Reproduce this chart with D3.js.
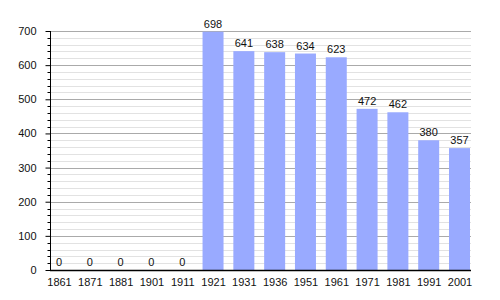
<!DOCTYPE html>
<html>
<head>
<meta charset="utf-8">
<script src="https://cdn.jsdelivr.net/npm/d3@7"></script>
<style>
  body { margin: 0; background: #fff; }
  svg text { font-family: "Liberation Sans", Arial, sans-serif; font-size: 11px; fill: #111; }
</style>
</head>
<body>
<svg id="chart" width="500" height="300"></svg>
<script>
var years = ['1861', '1871', '1881', '1901', '1911', '1921', '1931', '1936', '1951', '1961', '1971', '1981', '1991', '2001'];
var population = [0, 0, 0, 0, 0, 698, 641, 638, 634, 623, 472, 462, 380, 357];
var yTicks = [0, 100, 200, 300, 400, 500, 600, 700];

var svg = d3.select('#chart');

var plotLeft = 50, plotRight = 471, plotTop = 31, plotBottom = 270;

var x = d3.scalePoint().domain(years).range([59, 459.5]);
var y = d3.scaleLinear().domain([0, 700]).range([plotBottom, plotTop]);
var barW = 21;

// minor grid every 20
var minor = d3.range(20, 700, 20).filter(function(v) { return v % 100 != 0; });
svg.append('g').selectAll('line').data(minor)
  .enter().append('line')
  .attr('x1', plotLeft).attr('x2', plotRight)
  .attr('y1', function(d) { return Math.round(y(d)) + 0.5; })
  .attr('y2', function(d) { return Math.round(y(d)) + 0.5; })
  .style('stroke', '#e2e2e2');

svg.append('g').selectAll('line').data(yTicks.slice(1))
  .enter().append('line')
  .attr('x1', plotLeft).attr('x2', plotRight)
  .attr('y1', function(d) { return Math.round(y(d)) + 0.5; })
  .attr('y2', function(d) { return Math.round(y(d)) + 0.5; })
  .style('stroke', '#aaaaaa');

// bars
svg.append('g').selectAll('rect').data(population)
  .enter().append('rect')
  .attr('x', function(d, i) { return x(years[i]) - barW / 2; })
  .attr('y', function(d) { return y(d); })
  .attr('width', barW)
  .attr('height', function(d) { return plotBottom - y(d); })
  .style('fill', '#99aaff');

// value labels
svg.append('g').selectAll('text').data(population)
  .enter().append('text')
  .attr('x', function(d, i) { return x(years[i]); })
  .attr('y', function(d) { return y(d) - 4; })
  .attr('text-anchor', 'middle')
  .text(function(d) { return d; });

// y axis
var yAxis = d3.axisLeft(y).tickValues(yTicks).tickSize(5).tickPadding(9);
var gy = svg.append('g').attr('transform', 'translate(' + (plotLeft + 0.5) + ',0)').call(yAxis);
gy.select('.domain').remove();
gy.selectAll('.tick line').style('stroke', '#000');
gy.append('line').attr('x1', 0).attr('x2', 0).attr('y1', plotTop).attr('y2', plotBottom).style('stroke', '#000');
gy.selectAll('.minor').data(minor)
  .enter().append('line')
  .attr('x1', -3).attr('x2', 0)
  .attr('y1', function(d) { return Math.round(y(d)) + 0.5; })
  .attr('y2', function(d) { return Math.round(y(d)) + 0.5; })
  .style('stroke', '#000');

// x axis
var xAxis = d3.axisBottom(x).tickSize(0).tickPadding(8);
var gx = svg.append('g').attr('transform', 'translate(0,' + (plotBottom + 0.5) + ')').call(xAxis);
gx.select('.domain').remove();
gx.append('line').attr('x1', plotLeft).attr('x2', plotRight).style('stroke', '#000').style('stroke-width', 1.5);
svg.selectAll('.tick text').style('font-size', '11px').style('font-family', '"Liberation Sans", Arial, sans-serif').style('fill', '#111');
</script>
</body>
</html>
